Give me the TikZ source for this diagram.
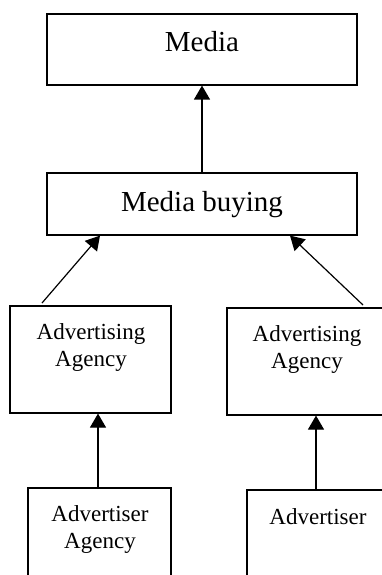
\documentclass[tikz,border=0pt]{standalone}
\usepackage{fontspec}
\setmainfont{Liberation Serif}
\usetikzlibrary{arrows.meta}
\begin{document}
\begin{tikzpicture}[x=1pt,y=-1pt,
  box/.style={draw,line width=1.2pt,inner sep=0pt},
  big/.style={font=\fontsize{29}{33}\selectfont,anchor=base,inner sep=0pt},
  small/.style={font=\fontsize{23}{27}\selectfont,align=center,anchor=base,inner sep=0pt},
  arr/.style={line width=1.2pt,-{Triangle[length=14pt,width=16pt]}}]
  \useasboundingbox (0,0) rectangle (382,575);
  \clip (0,0) rectangle (382,575);
  % boxes
  \node[box,minimum width=310pt,minimum height=71pt] (media) at (202,49.5) {};
  \node[box,minimum width=310pt,minimum height=62pt] (buying) at (202,204) {};
  \node[box,minimum width=161pt,minimum height=107pt] (agency1) at (90.5,359.5) {};
  \node[box,minimum width=160pt,minimum height=107pt] (agency2) at (307,361.5) {};
  \node[box,minimum width=143pt,minimum height=107pt] (adv1) at (99.5,541.5) {};
  \node[box,minimum width=142pt,minimum height=107pt] (adv2) at (318,543.5) {};
  % texts (base = last line)
  \node[big] (media-t) at (202,52) {Media};
  \node[big] (buying-t) at (202,211) {Media buying};
  \node[small] (agency1-t) at (91,366) {Advertising\\Agency};
  \node[small] (agency2-t) at (307,368) {Advertising\\Agency};
  \node[small] (adv1-t) at (100,548) {Advertiser\\Agency};
  \node[small] (adv2-t) at (318,524) {Advertiser};
  % connectors
  \coordinate (lin) at (100,0);\coordinate (rin) at (290,0);%ends on media buying
  \coordinate (lx) at (98,0);\coordinate (rx) at (316,0);
  \coordinate (lout) at (42,303);\coordinate (rout) at (363,305);
  \draw[arr] (buying) -- (media);
  \draw[arr] (lout) -- (buying.south -| lin);
  \draw[arr] (rout) -- (buying.south -| rin);
  \draw[arr] (adv1.north -| lx) -- (agency1.south -| lx);
  \draw[arr] (adv2.north -| rx) -- (agency2.south -| rx);
\end{tikzpicture}
\end{document}
